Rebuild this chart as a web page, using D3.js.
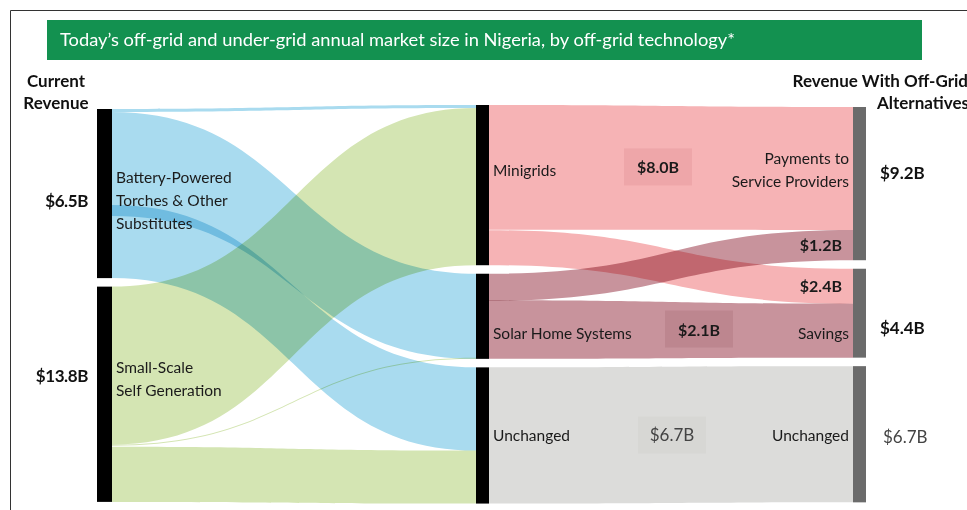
<!DOCTYPE html>
<html>
<head>
<meta charset="utf-8">
<script src="https://cdn.jsdelivr.net/npm/d3@7"></script>
<style>
  body { margin: 0; background: #fff; }
  svg { display: block; font-family: Lato, 'Open Sans', sans-serif; }
  .link { mix-blend-mode: multiply; }
</style>
</head>
<body>
<div id="chart"></div>
<script>

////////////////////////////////////////////////////////////
// Data
////////////////////////////////////////////////////////////

const title = 'Today’s off-grid and under-grid annual market size in Nigeria, by off-grid technology*'

// Current revenue (left column)
const left_names = [['Battery-Powered', 'Torches & Other', 'Substitutes'], ['Small-Scale', 'Self Generation']]
const left_values = [6.5, 13.8]

// Off-grid technology (middle column)
const mid_names = [['Minigrids'], ['Solar Home Systems'], ['Unchanged']]

// Revenue with off-grid alternatives (right column)
const right_names = [['Payments to', 'Service Providers'], ['Savings'], ['Unchanged']]
const right_values = [9.2, 4.4, 6.7]

// Bar sizes as drawn in the graphic, $B (not proportional to the labels)
const left_sizes = [8.94, 11.38]
const mid_sizes = [8.47, 4.5, 7.2]
const right_sizes = [8.1, 4.7, 7.2]

// Flows left -> middle: [source, target, drawn size at source, drawn size at target]
const left_links = [
  [0, 0, 0.16, 0.16],
  [0, 1, 5.5, 4.5],
  [0, 2, 3.86, 4.4],
  [1, 0, 8.35, 8.31],
  [1, 1, 0.06, 0.06],
  [1, 2, 2.91, 2.8]
]

// Flows middle -> right: [source, target, size at source, size at target, value $B]
const right_links = [
  [0, 0, 6.6, 6.5, 8.0],
  [0, 1, 1.85, 1.85, 2.4],
  [1, 0, 1.43, 1.6, 1.2],
  [1, 1, 3.1, 2.85, 2.1],
  [2, 2, 7.2, 7.2, 6.7]
]

////////////////////////////////////////////////////////////
// Layout
////////////////////////////////////////////////////////////

const W = 967
const H = 510

const col_x = [97, 476, 853]
const col_w = [15, 13, 13]
const col_top = [109, 105, 107]
const gap = 0.45

const colors = {
  left: ['#a9dbef', '#d4e5b3'],
  mid: ['#f6b3b5', '#c8939c', '#dcdcda']
}

// label baselines, relative to node centre
const left_label_dy = [-10.5, -21]
const left_value_dy = [13.5, -12]
const mid_label_dy = [-9, 23, 5.5]
const right_label_dy = [-19.6, 26, 6.7]
const right_value_dy = [-4.6, 21, 8.7]

// flow labels: box centred at x, or right aligned at x
const flow_label_pos = [
  { type: 'box', x: 658, bold: true, fill: '#eea6a9' },
  { type: 'end', x: 842 },
  { type: 'end', x: 842 },
  { type: 'box', x: 699, bold: true, fill: '#bd868f' },
  { type: 'box', x: 672, bold: false, fill: '#d7d7d4' }
]

const size = d3.scaleLinear().domain([0, 20.3]).range([0, 384])
const fmt = v => '$' + d3.format('.1f')(v) + 'B'

function place_nodes(sizes, top) {
  let y = top
  return sizes.map(s => {
    let n = { y0: y, y1: y + size(s) }
    n.cy = (n.y0 + n.y1) / 2
    y = n.y1 + size(gap)
    return n
  })
}

// stack the bands of each node from its top; the last band sits on the bottom edge
function stack(links, nodes, end, w, key) {
  nodes.forEach((n, i) => {
    let mine = links.filter(l => l[end] === i)
    let cur = n.y0
    mine.forEach((l, k) => {
      let h = size(l[w])
      let y0 = (k > 0 && k === mine.length - 1) ? n.y1 - h : cur
      l[key] = [y0, y0 + h]
      cur = y0 + h
    })
  })
}

function place_links(rows, src, tgt) {
  let out = rows.map(r => ({ source: r[0], target: r[1], s: r[2], t: r[3], value: r[4] }))
  stack(out, src, 'source', 's', 'sy')
  stack(out, tgt, 'target', 't', 'ty')
  return out
}

function band(x0, x1, s, t) {
  let xm = (x0 + x1) / 2
  let p = d3.path()
  p.moveTo(x0, s[0])
  p.bezierCurveTo(xm, s[0], xm, t[0], x1, t[0])
  p.lineTo(x1, t[1])
  p.bezierCurveTo(xm, t[1], xm, s[1], x0, s[1])
  p.closePath()
  return p.toString()
}

let left_nodes = place_nodes(left_sizes, col_top[0])
let mid_nodes = place_nodes(mid_sizes, col_top[1])
let right_nodes = place_nodes(right_sizes, col_top[2])

let links_a = place_links(left_links, left_nodes, mid_nodes)
let links_b = place_links(right_links, mid_nodes, right_nodes)

////////////////////////////////////////////////////////////
// Draw
////////////////////////////////////////////////////////////

let svg = d3.select('#chart')
  .append('svg')
  .attr('width', W)
  .attr('height', H)

svg.append('rect')
  .attr('width', W)
  .attr('height', H)
  .attr('fill', '#fff')

// Frame
svg.append('path')
  .attr('d', `M10.5,${H} V10.5 H${W}`)
  .attr('fill', 'none')
  .attr('stroke', '#333')
  .attr('stroke-width', 1)

// Title bar
svg.append('rect')
  .attr('x', 47)
  .attr('y', 20)
  .attr('width', 875)
  .attr('height', 40)
  .attr('fill', '#139150')

svg.append('text')
  .attr('x', 60)
  .attr('y', 46)
  .attr('fill', '#fff')
  .attr('font-size', 16.5)
  .attr('textLength', 675)
  .attr('lengthAdjust', 'spacingAndGlyphs')
  .text(title)

// Column headers
let head = svg.append('g')
  .attr('font-weight', 700)
  .attr('font-size', 17)
  .attr('fill', '#111')

head.append('text').attr('x', 56).attr('y', 87).attr('text-anchor', 'middle').text('Current')
head.append('text').attr('x', 56).attr('y', 109).attr('text-anchor', 'middle').text('Revenue')
head.append('text').attr('x', 968).attr('y', 87).attr('text-anchor', 'end').text('Revenue With Off-Grid')
head.append('text').attr('x', 969).attr('y', 109).attr('text-anchor', 'end').text('Alternatives')

// Links
let x_a0 = col_x[0] + col_w[0]
let x_a1 = col_x[1]
let x_b0 = col_x[1] + col_w[1]
let x_b1 = col_x[2]

svg.append('g')
  .selectAll('path')
  .data(links_a)
  .join('path')
    .attr('class', 'link')
    .attr('d', d => band(x_a0, x_a1, d.sy, d.ty))
    .attr('fill', d => colors.left[d.source])

svg.append('g')
  .selectAll('path')
  .data(links_b)
  .join('path')
    .attr('class', 'link')
    .attr('d', d => band(x_b0, x_b1, d.sy, d.ty))
    .attr('fill', d => colors.mid[d.source])

// Node bars
let bars = [
  [left_nodes, '#000'],
  [mid_nodes, '#000'],
  [right_nodes, '#6b6b6b']
]
bars.forEach(([nodes, fill], c) => {
  svg.append('g')
    .selectAll('rect')
    .data(nodes)
    .join('rect')
      .attr('x', col_x[c])
      .attr('y', d => d.y0)
      .attr('width', col_w[c])
      .attr('height', d => d.y1 - d.y0)
      .attr('fill', fill)
})

// Node labels
function multiline(g, lines, x, y, anchor) {
  let t = g.append('text')
    .attr('x', x)
    .attr('y', y)
    .attr('text-anchor', anchor)
  lines.forEach((line, i) => {
    t.append('tspan')
      .attr('x', x)
      .attr('dy', i === 0 ? 0 : 23)
      .text(line)
  })
}

let labels = svg.append('g')
  .attr('font-size', 15.5)
  .attr('fill', '#1a1a1a')

left_nodes.forEach((n, i) => multiline(labels, left_names[i], x_a0 + 4, n.cy + left_label_dy[i], 'start'))
mid_nodes.forEach((n, i) => multiline(labels, mid_names[i], x_b0 + 4, n.cy + mid_label_dy[i], 'start'))
right_nodes.forEach((n, i) => multiline(labels, right_names[i], x_b1 - 4, n.cy + right_label_dy[i], 'end'))

// Node values
let values = svg.append('g')
  .attr('font-size', 17)
  .attr('fill', '#111')

left_nodes.forEach((n, i) => {
  values.append('text')
    .attr('x', 88)
    .attr('y', n.cy + left_value_dy[i])
    .attr('text-anchor', 'end')
    .attr('font-weight', 700)
    .attr('letter-spacing', -0.4)
    .text(fmt(left_values[i]))
})

right_nodes.forEach((n, i) => {
  let last = i === right_nodes.length - 1
  values.append('text')
    .attr('x', last ? 883 : 880)
    .attr('y', n.cy + right_value_dy[i])
    .attr('font-weight', last ? 400 : 700)
    .attr('fill', last ? '#444' : '#111')
    .text(fmt(right_values[i]))
})

// Flow labels
let flows = svg.append('g')
links_b.forEach((l, i) => {
  let pos = flow_label_pos[i]
  if (pos.type === 'box') {
    let cy = (l.sy[0] + l.sy[1]) / 2
    flows.append('rect')
      .attr('x', pos.x - 34)
      .attr('y', cy - 19)
      .attr('width', 68)
      .attr('height', 37)
      .attr('fill', pos.fill)
    flows.append('text')
      .attr('x', pos.x)
      .attr('y', cy + 6)
      .attr('text-anchor', 'middle')
      .attr('font-size', pos.bold ? 16 : 17)
      .attr('font-weight', pos.bold ? 700 : 400)
      .attr('fill', pos.bold ? '#1a1a1a' : '#444')
      .text(fmt(l.value))
  } else {
    let cy = (l.ty[0] + l.ty[1]) / 2
    flows.append('text')
      .attr('x', pos.x)
      .attr('y', cy + 6)
      .attr('text-anchor', 'end')
      .attr('font-size', 16)
      .attr('font-weight', 700)
      .attr('fill', '#1a1a1a')
      .text(fmt(l.value))
  }
})

</script>
</body>
</html>
